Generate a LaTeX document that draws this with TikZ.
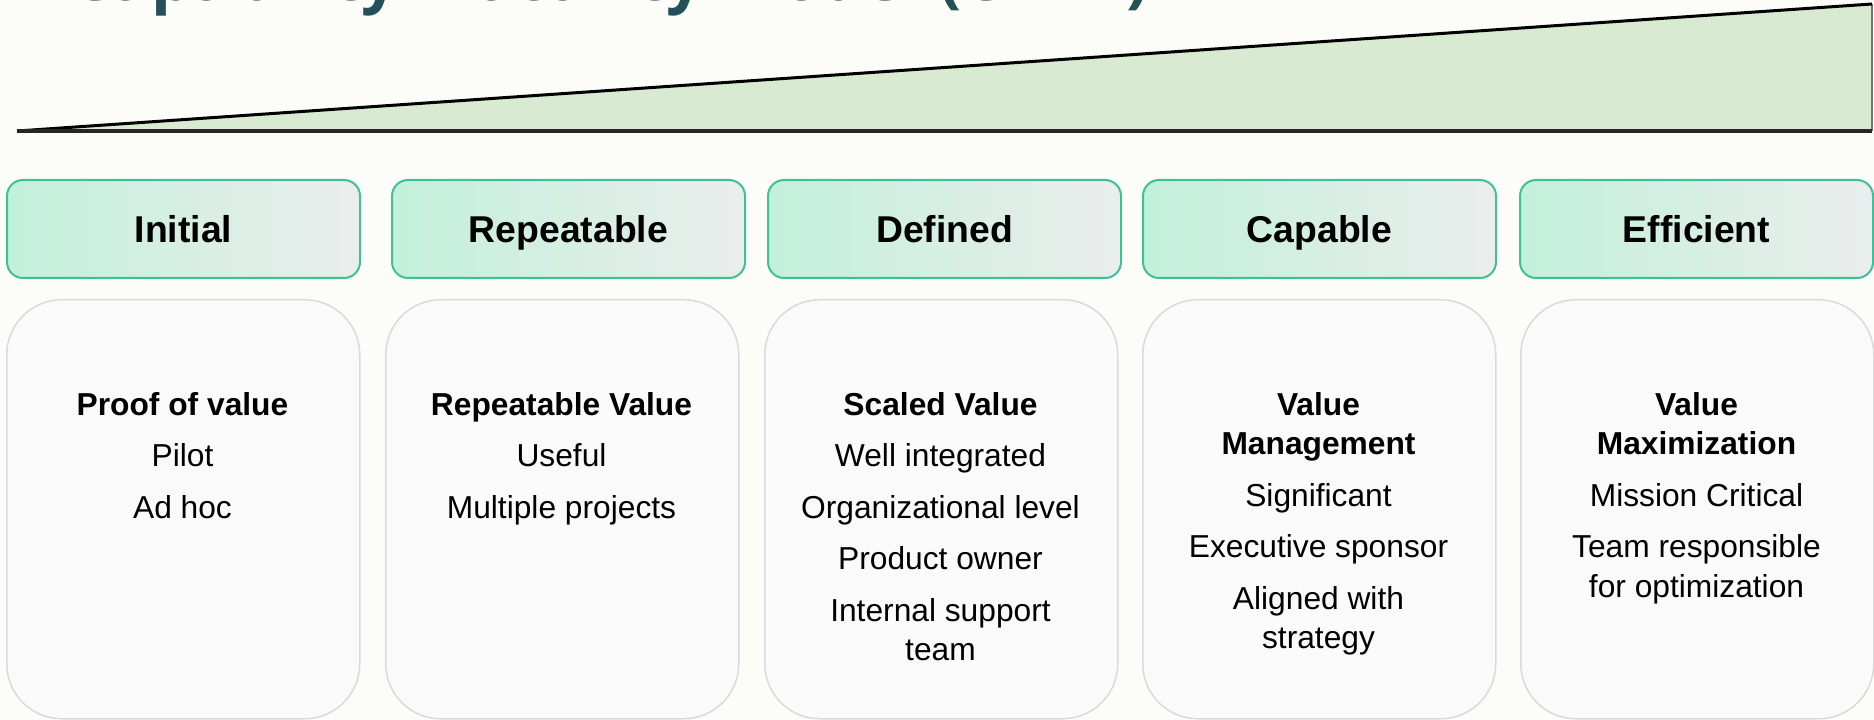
\documentclass[tikz,border=0pt]{standalone}
\usepackage{fontspec}
\setmainfont{Liberation Sans}
\newfontfamily\titlefont{Open Sans}
\newlength{\du}
\setlength{\du}{0.75pt}

\begin{document}
\begin{tikzpicture}[
  headbox/.style={draw=headline, line width=2\du, rounded corners=16\du,
    left color=headleft, right color=headright, minimum width=353\du,
    minimum height=98\du, anchor=north west, inner sep=0pt,
    text height=20pt, text depth=0pt,
    font=\fontsize{28}{33}\selectfont\bfseries},
  bodybox/.style={draw=bodyline, line width=1.5\du, fill=bodyfill,
    rounded corners=55\du, minimum width=353\du, minimum height=419\du,
    anchor=north west, inner sep=0pt},
  bodytext/.style={anchor=north, align=center, inner sep=0pt,
    font=\fontsize{23.8}{29.6}\selectfont}
]
\pgftransformxscale{1.000000}
\pgftransformyscale{-1.000000}
\definecolor{canvascolor}{RGB}{252,253,249}
\definecolor{titlecolor}{RGB}{36,80,89}
\definecolor{wedgefill}{RGB}{217,234,211}
\definecolor{wedgeedge}{RGB}{110,120,110}
\definecolor{headline}{RGB}{62,192,152}
\definecolor{headleft}{RGB}{194,240,219}
\definecolor{headright}{RGB}{235,237,237}
\definecolor{bodyfill}{RGB}{249,250,249}
\definecolor{bodyline}{RGB}{218,218,218}
\useasboundingbox (0\du,0\du) rectangle (1874\du,720\du);
\clip (0\du,0\du) rectangle (1874\du,720\du);
\fill[canvascolor] (0\du,0\du) rectangle (1874\du,720\du);
% title, cut at the top
\node[anchor=base west, inner sep=0pt, text=titlecolor,
  font=\titlefont\bfseries\fontsize{49}{56}\selectfont] (title) at (70\du,1\du){Capability Maturity Model (CMM)};
% growth wedge
\coordinate (wedgetip) at (17\du,131\du);
\coordinate (wedgetop) at (1872\du,4\du);
\coordinate (wedgebase) at (1872\du,131\du);
\fill[wedgefill] (wedgetip)--(wedgetop)--(wedgebase)--cycle;
\draw[line width=1.5\du, wedgeedge] (wedgetop)--(wedgebase);
\draw[line width=3\du, black] (wedgetip)--(wedgetop);
\draw[line width=3.5\du, black!85] (wedgetip)--(wedgebase);
% level headers
\node[headbox] (initial) at (6\du,179\du){Initial};
\node[headbox] (repeatable) at (391\du,179\du){Repeatable};
\node[headbox] (defined) at (767\du,179\du){Defined};
\node[headbox] (capable) at (1142\du,179\du){Capable};
\node[headbox] (efficient) at (1519\du,179\du){Efficient};
% level cards
\node[bodybox] (initialcard) at (6\du,299\du){};
\node[bodybox] (repeatablecard) at (385\du,299\du){};
\node[bodybox] (definedcard) at (764\du,299\du){};
\node[bodybox] (capablecard) at (1142\du,299\du){};
\node[bodybox] (efficientcard) at (1520\du,299\du){};
% card texts
\node[bodytext] (initialtext) at (182.5\du,392\du){\textbf{Proof of value}\\[9pt]Pilot\\[9pt]Ad hoc};
\node[bodytext] (repeatabletext) at (561.5\du,392\du){\textbf{Repeatable Value}\\[9pt]Useful\\[9pt]Multiple projects};
\node[bodytext] (definedtext) at (940.5\du,392\du){\textbf{Scaled Value}\\[9pt]Well integrated\\[9pt]Organizational level\\[9pt]Product owner\\[9pt]Internal support\\team};
\node[bodytext] (capabletext) at (1318.5\du,392\du){\textbf{Value}\\\textbf{Management}\\[9pt]Significant\\[9pt]Executive sponsor\\[9pt]Aligned with\\strategy};
\node[bodytext] (efficienttext) at (1696.5\du,392\du){\textbf{Value}\\\textbf{Maximization}\\[9pt]Mission Critical\\[9pt]Team responsible\\for optimization};
\end{tikzpicture}
\end{document}
